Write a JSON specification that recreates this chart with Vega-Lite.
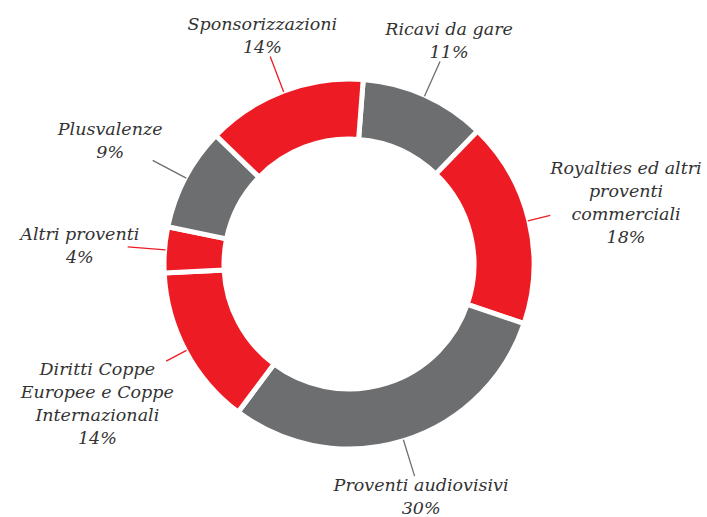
{
  "$schema": "https://vega.github.io/schema/vega-lite/v6.json",
  "autosize": "none",
  "width": 698,
  "height": 506,
  "padding": {"left": 0, "top": 11, "right": 9, "bottom": 0},
  "background": "white",
  "view": {"stroke": null},
  "data": {
    "values": [
      {"order": 1, "name": "Ricavi da gare", "label": "Ricavi da gare\n11%", "value": 11, "type": "grigio"},
      {"order": 2, "name": "Royalties ed altri proventi commerciali", "label": "Royalties ed altri\nproventi\ncommerciali\n18%", "value": 18, "type": "rosso"},
      {"order": 3, "name": "Proventi audiovisivi", "label": "Proventi audiovisivi\n30%", "value": 30, "type": "grigio"},
      {"order": 4, "name": "Diritti Coppe Europee e Coppe Internazionali", "label": "Diritti Coppe\nEuropee e Coppe\nInternazionali\n14%", "value": 14, "type": "rosso"},
      {"order": 5, "name": "Altri proventi", "label": "Altri proventi\n4%", "value": 4, "type": "rosso"},
      {"order": 6, "name": "Plusvalenze", "label": "Plusvalenze\n9%", "value": 9, "type": "grigio"},
      {"order": 7, "name": "Sponsorizzazioni", "label": "Sponsorizzazioni\n14%", "value": 14, "type": "rosso"}
    ]
  },
  "encoding": {
    "theta": {"field": "value", "type": "quantitative", "stack": true, "scale": {"range": [0.077, 6.3602]}},
    "order": {"field": "order", "type": "quantitative"}
  },
  "layer": [
    {
      "mark": {"type": "arc", "outerRadius": 185, "innerRadius": 125, "stroke": "white", "strokeWidth": 5},
      "encoding": {
        "color": {"field": "type", "type": "nominal", "legend": null, "scale": {"domain": ["grigio", "rosso"], "range": ["#6D6E70", "#ED1C24"]}}
      }
    },
    {
      "mark": {"type": "arc", "filled": false, "outerRadius": 222, "innerRadius": 184, "padAngle": 3.14, "strokeWidth": 1.3},
      "encoding": {
        "color": {"field": "type", "type": "nominal", "legend": null, "scale": {"domain": ["grigio", "rosso"], "range": ["#6D6E70", "#ED1C24"]}},
        "opacity": {"condition": {"test": "indexof(['Royalties ed altri proventi commerciali','Diritti Coppe Europee e Coppe Internazionali'], datum.name) < 0", "value": 1}, "value": 0}
      }
    },
    {
      "mark": {"type": "arc", "filled": false, "outerRadius": 207, "innerRadius": 184, "padAngle": 3.14, "strokeWidth": 1.3},
      "encoding": {
        "color": {"field": "type", "type": "nominal", "legend": null, "scale": {"domain": ["grigio", "rosso"], "range": ["#6D6E70", "#ED1C24"]}},
        "opacity": {"condition": {"test": "indexof(['Royalties ed altri proventi commerciali','Diritti Coppe Europee e Coppe Internazionali'], datum.name) >= 0", "value": 1}, "value": 0}
      }
    },
    {
      "mark": {"type": "text", "radius": 244, "dy": -11, "font": "DejaVu Serif", "fontStyle": "italic", "fontSize": 17.5, "lineHeight": 23, "align": "center", "baseline": "middle", "lineBreak": "\n", "color": "#333333"},
      "encoding": {
        "text": {"condition": {"test": "indexof(['Ricavi da gare','Sponsorizzazioni','Proventi audiovisivi'], datum.name) >= 0", "field": "label"}, "value": ""}
      }
    },
    {
      "mark": {"type": "text", "radius": 270, "dy": -8, "font": "DejaVu Serif", "fontStyle": "italic", "fontSize": 17.5, "lineHeight": 23, "align": "center", "baseline": "middle", "lineBreak": "\n", "color": "#333333"},
      "encoding": {
        "text": {"condition": {"test": "indexof(['Altri proventi','Plusvalenze'], datum.name) >= 0", "field": "label"}, "value": ""}
      }
    },
    {
      "mark": {"type": "text", "radius": 285, "dy": -28, "font": "DejaVu Serif", "fontStyle": "italic", "fontSize": 17.5, "lineHeight": 23, "align": "center", "baseline": "middle", "lineBreak": "\n", "color": "#333333"},
      "encoding": {
        "text": {"condition": {"test": "indexof(['Royalties ed altri proventi commerciali','Diritti Coppe Europee e Coppe Internazionali'], datum.name) >= 0", "field": "label"}, "value": ""}
      }
    }
  ]
}
